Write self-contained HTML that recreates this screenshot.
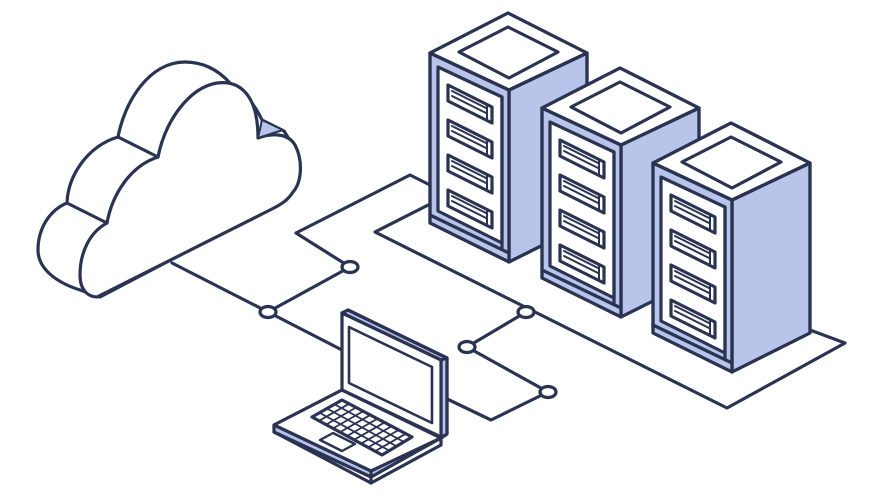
<!DOCTYPE html>
<html><head><meta charset="utf-8"><style>html,body{margin:0;padding:0;background:#fff}svg{display:block}</style></head>
<body>
<svg width="889" height="500" viewBox="0 0 889 500" xmlns="http://www.w3.org/2000/svg">
<defs>
<g id="srv">
  <polygon points="79,37 157,0 157,170 79,209" fill="#b8c4ea"/>
  <polygon points="0,0 79,37 79,209 0,170" fill="#b8c4ea"/>
  <polygon points="0,0 78,-40 157,0 79,37" fill="#fff"/>
  <polygon points="29,-1 78,-26 128,-1 79,25" fill="#fff"/>
  <polygon points="8,14 72,44 72,190 8,158" fill="#fff"/>
  <line x1="0" y1="162" x2="79" y2="200"/>
  <line x1="72" y1="44" x2="72" y2="196"/>
  <g id="slot">
    <polygon points="18,32 62,54 62,70 18,48" fill="#fff"/>
    <line x1="22" y1="38" x2="56" y2="55" stroke-width="2"/>
    <line x1="22" y1="43" x2="56" y2="60" stroke-width="2"/>
    <line x1="57" y1="52" x2="57" y2="67" stroke-width="2"/>
  </g>
  <use href="#slot" transform="translate(0,35)"/>
  <use href="#slot" transform="translate(0,70)"/>
  <use href="#slot" transform="translate(0,105)"/>
  <polygon points="0,0 78,-40 157,0 157,170 79,209 0,170" fill="none"/>
  <line x1="0" y1="0" x2="79" y2="37"/><line x1="79" y1="37" x2="157" y2="0"/><line x1="79" y1="37" x2="79" y2="209"/>
</g>
</defs>
<g stroke="#2a3352" stroke-width="3.2" stroke-linejoin="round" stroke-linecap="round" fill="none">
  <polyline points="172,263 268,312 342,350"/>
  <polyline points="443,397 491,420 548,392 467,347 526,312"/>
  <polyline points="268,312 350,267 296,233 410,175 440,190"/>
  <polygon points="375,232 440,199 810,330 845,343 727,408" fill="#fff"/>
  <use href="#srv" transform="translate(430,53)"/>
  <use href="#srv" transform="translate(542,108)"/>
  <use href="#srv" transform="translate(653,163)"/>
  <ellipse cx="268" cy="312" rx="8" ry="5.5" fill="#fff"/>
  <ellipse cx="350" cy="267" rx="8" ry="5.5" fill="#fff"/>
  <ellipse cx="467" cy="347" rx="8" ry="5.5" fill="#fff"/>
  <ellipse cx="526" cy="312" rx="8" ry="5.5" fill="#fff"/>
  <ellipse cx="548" cy="392" rx="8" ry="5.5" fill="#fff"/>
  <!-- cloud -->
  <path d="M80,290 C55,282 38,268 38,250 C38,228 50,210 67,203 C68,175 88,146 118,137 C125,100 150,62 185,62 C205,62 220,72 230,83 C245,92 255,105 262,120 L284,131 L296,150 L296,183 L272,207 L100,297 Z" fill="#fff"/>
  <path d="M97,297 C88,297 80,290 80,275 C80,252 90,232 107,223 C112,195 130,166 158,157 C165,122 188,88 217,83 C240,80 258,95 258,138 C272,133 288,133 295,145 C303,160 302,182 293,192 C288,200 282,204 270,210 L97,297 Z" fill="#fff"/>
  <polygon points="262,120 258,138 283,130" fill="#b8c4ea" stroke-width="2"/>
  <line x1="67" y1="203" x2="107" y2="223"/>
  <line x1="118" y1="137" x2="158" y2="157"/>
  <!-- laptop base -->
  <polygon points="274,425 342,390 441,438 371,477 274,432" fill="#b8c4ea"/>
  <polygon points="274,425 342,390 441,438 371,471" fill="#fff"/>
  <polyline points="274,432 371,483 441,445 441,438"/>
  <line x1="371" y1="471" x2="371" y2="483"/>
  <polygon points="312,417 342,400 412,437 382,455" fill="#fff"/>
  <g stroke-width="1.8">
    <line x1="319.5" y1="412.75" x2="389.5" y2="450.75"/>
    <line x1="327" y1="408.5" x2="397" y2="446.5"/>
    <line x1="334.5" y1="404.25" x2="404.5" y2="442.25"/>
    <line x1="319" y1="420.8" x2="349" y2="403.8"/>
    <line x1="326" y1="424.6" x2="356" y2="407.6"/>
    <line x1="333" y1="428.4" x2="363" y2="411.4"/>
    <line x1="340" y1="432.2" x2="370" y2="415.2"/>
    <line x1="347" y1="436" x2="377" y2="419"/>
    <line x1="354" y1="439.8" x2="384" y2="422.8"/>
    <line x1="361" y1="443.6" x2="391" y2="426.6"/>
    <line x1="368" y1="447.4" x2="398" y2="430.4"/>
    <line x1="375" y1="451.2" x2="405" y2="434.2"/>
  </g>
  <polygon points="320,440 333,433 355,444 342,451" fill="#fff" stroke-width="2.4"/>
  <polygon points="342,313 348,310 447,358 447,434 441,438 441,360" fill="#b8c4ea"/>
  <polygon points="342,313 441,360 441,437 342,390" fill="#fff"/>
  <polyline points="342,313 348,310 447,358 447,434 441,438"/>
  <line x1="441" y1="360" x2="447" y2="358"/>
  <polygon points="349,327 432,367 432,423 349,383" fill="#fff" stroke-width="2.6"/>
</g>
</svg>
</body></html>
